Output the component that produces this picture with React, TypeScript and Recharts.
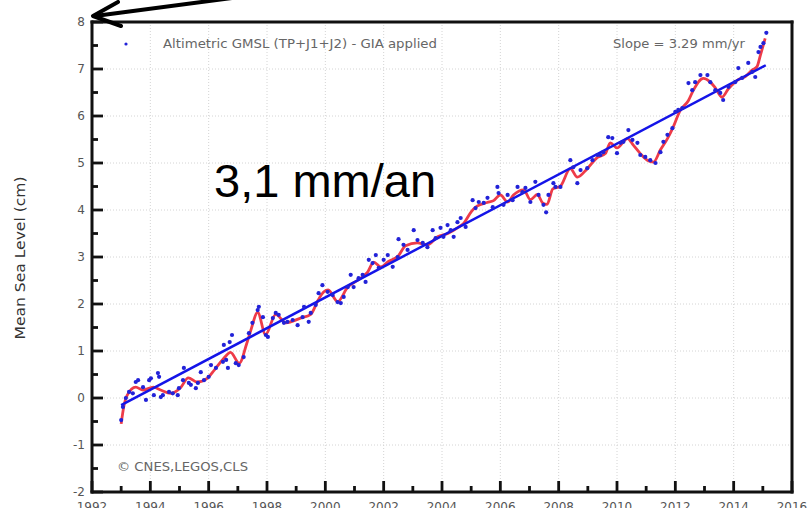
import { ComposedChart, Line, Scatter, XAxis, YAxis, CartesianGrid } from 'recharts'

// axis ticks (minor + major) and the dotted grid positions
const yearTicks = [
  1992, 1993, 1994, 1995, 1996, 1997, 1998, 1999, 2000, 2001, 2002, 2003, 2004,
  2005, 2006, 2007, 2008, 2009, 2010, 2011, 2012, 2013, 2014, 2015, 2016,
]
const levelTicks = [-2, -1.5, -1, -0.5, 0, 0.5, 1, 1.5, 2, 2.5, 3, 3.5, 4, 4.5, 5, 5.5, 6, 6.5, 7, 7.5, 8]
const gridYears = [1994, 1996, 1998, 2000, 2002, 2004, 2006, 2008, 2010, 2012, 2014]
const gridLevels = [-1, 0, 1, 2, 3, 4, 5, 6, 7]

// altimetric GMSL, 10-day points: [year, cm]
const altimetry: [number, number][] = [
  [1993.0, -0.47], [1993.06, -0.19], [1993.16, 0.0], [1993.27, 0.13], [1993.4, 0.1],
  [1993.5, 0.34], [1993.58, 0.38], [1993.75, 0.23], [1993.85, -0.04], [1993.96, 0.38],
  [1994.02, 0.42], [1994.12, 0.06], [1994.26, 0.53], [1994.3, 0.45], [1994.36, 0.02],
  [1994.43, 0.06], [1994.64, 0.13], [1994.77, 0.1], [1994.94, 0.06], [1994.98, 0.21],
  [1995.12, 0.38], [1995.15, 0.64], [1995.32, 0.32], [1995.39, 0.28], [1995.56, 0.21],
  [1995.63, 0.32], [1995.73, 0.55], [1995.84, 0.38], [1996.0, 0.45], [1996.08, 0.7],
  [1996.25, 0.64], [1996.49, 0.77], [1996.52, 1.13], [1996.6, 0.81], [1996.72, 1.19],
  [1996.8, 1.34], [1996.66, 0.64], [1996.93, 0.74], [1997.03, 0.7], [1997.2, 0.87],
  [1997.38, 1.38], [1997.5, 1.6], [1997.68, 1.87], [1997.72, 1.94], [1997.86, 1.72],
  [1997.96, 1.34], [1998.03, 1.3], [1998.2, 1.7], [1998.3, 1.81], [1998.4, 1.77],
  [1998.58, 1.6], [1998.7, 1.62], [1998.88, 1.66], [1999.05, 1.55], [1999.22, 1.72],
  [1999.27, 1.94], [1999.43, 1.62], [1999.5, 1.81], [1999.67, 1.98], [1999.77, 2.23],
  [1999.9, 2.4], [2000.08, 2.26], [2000.25, 2.19], [2000.42, 2.04], [2000.53, 2.02],
  [2000.63, 2.15], [2000.77, 2.36], [2000.87, 2.62], [2000.97, 2.36], [2001.14, 2.55],
  [2001.28, 2.62], [2001.38, 2.47], [2001.49, 2.94], [2001.62, 2.87], [2001.73, 3.04],
  [2001.83, 2.77], [2002.0, 2.94], [2002.14, 3.04], [2002.31, 2.79], [2002.48, 3.0],
  [2002.51, 3.38], [2002.68, 3.26], [2002.82, 3.15], [2003.03, 3.57], [2003.16, 3.36],
  [2003.34, 3.3], [2003.5, 3.21], [2003.68, 3.57], [2003.78, 3.4], [2003.95, 3.62],
  [2004.05, 3.43], [2004.19, 3.68], [2004.3, 3.57], [2004.4, 3.43], [2004.53, 3.74],
  [2004.64, 3.83], [2004.81, 3.64], [2005.05, 4.21], [2005.15, 4.04], [2005.26, 4.17],
  [2005.43, 4.15], [2005.56, 4.26], [2005.74, 4.06], [2005.9, 4.49], [2005.94, 4.36],
  [2006.11, 4.11], [2006.25, 4.32], [2006.42, 4.21], [2006.59, 4.49], [2006.76, 4.38],
  [2006.86, 4.47], [2007.03, 4.17], [2007.2, 4.6], [2007.31, 4.32], [2007.48, 4.11],
  [2007.57, 3.95], [2007.65, 4.32], [2007.82, 4.57], [2007.89, 4.49], [2008.06, 4.49],
  [2008.4, 5.06], [2008.5, 4.91], [2008.64, 4.57], [2008.75, 4.85], [2008.98, 4.89],
  [2009.16, 5.06], [2009.33, 5.17], [2009.43, 5.17], [2009.53, 5.23], [2009.7, 5.55],
  [2009.84, 5.53], [2010.0, 5.21], [2010.12, 5.43], [2010.22, 5.45], [2010.39, 5.7],
  [2010.53, 5.49], [2010.7, 5.43], [2010.8, 5.17], [2010.97, 5.13], [2011.14, 5.06],
  [2011.32, 5.0], [2011.49, 5.23], [2011.59, 5.45], [2011.73, 5.6], [2011.9, 5.74],
  [2012.0, 6.09], [2012.1, 6.13], [2012.24, 6.17], [2012.45, 6.7], [2012.58, 6.55],
  [2012.68, 6.72], [2012.86, 6.87], [2013.1, 6.87], [2013.2, 6.72], [2013.37, 6.55],
  [2013.54, 6.49], [2013.64, 6.34], [2013.82, 6.62], [2014.05, 6.72], [2014.16, 7.02],
  [2014.29, 6.81], [2014.5, 7.13], [2014.64, 6.94], [2014.74, 6.83], [2014.85, 7.36],
  [2014.92, 7.47], [2015.02, 7.55], [2015.12, 7.77],
]

// smoothed curve (red)
const smoothed: [number, number][] = [
  [1993.0, -0.55], [1993.1, -0.15], [1993.2, 0.05], [1993.5, 0.23], [1993.75, 0.17],
  [1994.1, 0.23], [1994.35, 0.17], [1994.7, 0.1], [1995.05, 0.23], [1995.3, 0.43],
  [1995.6, 0.34], [1995.95, 0.42], [1996.2, 0.6], [1996.5, 0.83], [1996.75, 0.97],
  [1997.05, 0.74], [1997.3, 1.15], [1997.45, 1.45], [1997.68, 1.82], [1997.95, 1.35],
  [1998.3, 1.78], [1998.65, 1.6], [1999.15, 1.7], [1999.5, 1.78], [1999.75, 2.08],
  [1999.95, 2.26], [2000.1, 2.3], [2000.42, 2.05], [2000.77, 2.36], [2001.1, 2.5],
  [2001.45, 2.68], [2001.66, 2.89], [2001.9, 2.79], [2002.15, 2.9], [2002.5, 3.02],
  [2002.75, 3.24], [2003.15, 3.3], [2003.5, 3.26], [2003.85, 3.43], [2004.2, 3.5],
  [2004.53, 3.62], [2004.75, 3.72], [2005.0, 3.96], [2005.2, 4.08], [2005.55, 4.16],
  [2005.77, 4.2], [2006.0, 4.32], [2006.25, 4.17], [2006.45, 4.32], [2006.8, 4.43],
  [2007.03, 4.22], [2007.27, 4.33], [2007.45, 4.15], [2007.6, 4.12], [2007.8, 4.45],
  [2008.05, 4.5], [2008.4, 4.88], [2008.64, 4.7], [2008.98, 4.88], [2009.33, 5.12],
  [2009.6, 5.2], [2009.77, 5.43], [2010.0, 5.32], [2010.36, 5.52], [2010.56, 5.38],
  [2010.8, 5.2], [2011.04, 5.06], [2011.25, 5.02], [2011.49, 5.28], [2011.73, 5.52],
  [2011.93, 5.77], [2012.15, 6.1], [2012.45, 6.33], [2012.62, 6.55], [2012.96, 6.8],
  [2013.2, 6.72], [2013.37, 6.6], [2013.6, 6.4], [2013.82, 6.58], [2014.12, 6.76],
  [2014.4, 6.84], [2014.64, 6.98], [2014.8, 7.05], [2014.92, 7.3], [2015.08, 7.65],
]

// linear fit, 3.29 mm/yr
const trend: [number, number][] = [[1993.0, -0.15], [2015.1, 7.08]]

const toRows = (pts: [number, number][]) => pts.map(([x, y]) => ({ x, y }))

const tickFont = '"DejaVu Sans", Verdana, sans-serif'
const tickColor = '#555'

// inward tick marks: polygons instead of stroked lines
function mark(x: number, y: number, dx: number, dy: number) {
  const w = 1.4
  if (dx === 0) return <rect x={x - w} y={Math.min(y, y + dy)} width={2 * w} height={Math.abs(dy)} fill="#111" />
  return <rect x={Math.min(x, x + dx)} y={y - w} width={Math.abs(dx)} height={2 * w} fill="#111" />
}

function BottomTick({ x, y, payload }: any) {
  const major = payload.value % 2 === 0
  return (
    <g>
      {mark(x, y, 0, major ? -11 : -6)}
      {major && (
        <text x={x} y={y + 10} dy="0.71em" textAnchor="middle" fontSize={12} fontFamily={tickFont} fill={tickColor}>
          {payload.value}
        </text>
      )}
    </g>
  )
}

function TopTick({ x, y, payload }: any) {
  const major = payload.value % 2 === 0
  return mark(x, y, 0, major ? 11 : 6)
}

function LeftTick({ x, y, payload }: any) {
  const major = Number.isInteger(payload.value)
  return (
    <g>
      {mark(x, y, major ? 11 : 6, 0)}
      {major && (
        <text x={x - 7} y={y} dy="0.36em" textAnchor="end" fontSize={12} fontFamily={tickFont} fill={tickColor}>
          {payload.value}
        </text>
      )}
    </g>
  )
}

function RightTick({ x, y, payload }: any) {
  const major = Number.isInteger(payload.value)
  return mark(x, y, major ? -11 : -6, 0)
}

export default function App() {
  return (
    <div style={{ position: 'absolute', left: 0, top: 0, width: 807, height: 508, background: '#fff', overflow: 'hidden' }}>
      <ComposedChart width={807} height={508} margin={{ top: 22, right: 15, bottom: 0, left: 0 }}>
        <CartesianGrid
          horizontalValues={gridLevels}
          verticalValues={gridYears}
          stroke="#d4d4d4"
          strokeDasharray="1 2"
        />
        <XAxis
          dataKey="x"
          type="number"
          domain={[1992, 2016]}
          ticks={yearTicks}
          interval={0}
          height={16}
          tickSize={0}
          tickMargin={0}
          tickLine={false}
          tick={(p: any) => <BottomTick {...p} />}
          axisLine={false}
          allowDataOverflow
        />
        <XAxis
          xAxisId="top"
          orientation="top"
          type="number"
          domain={[1992, 2016]}
          ticks={yearTicks}
          interval={0}
          height={0}
          tickSize={0}
          tickMargin={0}
          tickLine={false}
          tick={(p: any) => <TopTick {...p} />}
          axisLine={false}
          allowDataOverflow
        />
        <YAxis
          dataKey="y"
          type="number"
          domain={[-2, 8]}
          ticks={levelTicks}
          interval={0}
          width={92}
          tickSize={0}
          tickMargin={0}
          tickLine={false}
          tick={(p: any) => <LeftTick {...p} />}
          axisLine={false}
          allowDataOverflow
        />
        <YAxis
          yAxisId="right"
          orientation="right"
          type="number"
          domain={[-2, 8]}
          ticks={levelTicks}
          interval={0}
          width={0}
          tickSize={0}
          tickMargin={0}
          tickLine={false}
          tick={(p: any) => <RightTick {...p} />}
          axisLine={false}
          allowDataOverflow
        />
        <Scatter
          data={toRows(altimetry)}
          dataKey="y"
          isAnimationActive={false}
          shape={(p: any) => <circle cx={p.cx} cy={p.cy} r={2.1} fill="#2222d8" />}
        />
        <Line
          data={toRows(smoothed)}
          dataKey="y"
          type="monotone"
          stroke="#ee3b48"
          strokeWidth={2.8}
          dot={false}
          isAnimationActive={false}
        />
        <Line
          data={toRows(trend)}
          dataKey="y"
          type="linear"
          stroke="#1414e8"
          strokeWidth={2.5}
          dot={false}
          isAnimationActive={false}
        />
      </ComposedChart>

      <svg width={807} height={508} style={{ position: 'absolute', left: 0, top: 0, pointerEvents: 'none' }}>
        {/* plot frame as filled bands */}
        <g fill="#111">
          <rect x={90.5} y={20.5} width={703} height={3} />
          <rect x={90.5} y={490.5} width={703} height={3} />
          <rect x={90.5} y={20.5} width={3} height={473} />
          <rect x={790.5} y={20.5} width={3} height={473} />
        </g>
        <g fontFamily={tickFont} fontSize={12} fill="#666">
          <circle cx={126} cy={44} r={1.6} fill="#2222d8" />
          <text x={163} y={44} dy="0.36em" textLength={274} lengthAdjust="spacingAndGlyphs">
            Altimetric GMSL (TP+J1+J2) - GIA applied
          </text>
          <text x={613} y={44} dy="0.36em" textLength={132} lengthAdjust="spacingAndGlyphs">
            Slope = 3.29 mm/yr
          </text>
          <text x={117} y={467} dy="0.36em" textLength={131} lengthAdjust="spacingAndGlyphs">
            © CNES,LEGOS,CLS
          </text>
        </g>
        <text
          x={20}
          y={258}
          transform="rotate(-90 20 258)"
          textAnchor="middle"
          dy="0.36em"
          fontFamily={tickFont}
          fontSize={13.5}
          fill="#333"
          textLength={163}
          lengthAdjust="spacingAndGlyphs"
        >
          Mean Sea Level (cm)
        </text>
        <text x={214} y={197} fontFamily='"Liberation Sans", Arial, sans-serif' fontSize={47} fill="#000">
          3,1 mm/an
        </text>
        <g stroke="#000" strokeWidth={4} fill="none" strokeLinecap="round" strokeLinejoin="round">
          <line x1={95} y1={16} x2={232} y2={-2} />
          <polyline points="118,2 93,16 121,26" />
        </g>
      </svg>
    </div>
  )
}
